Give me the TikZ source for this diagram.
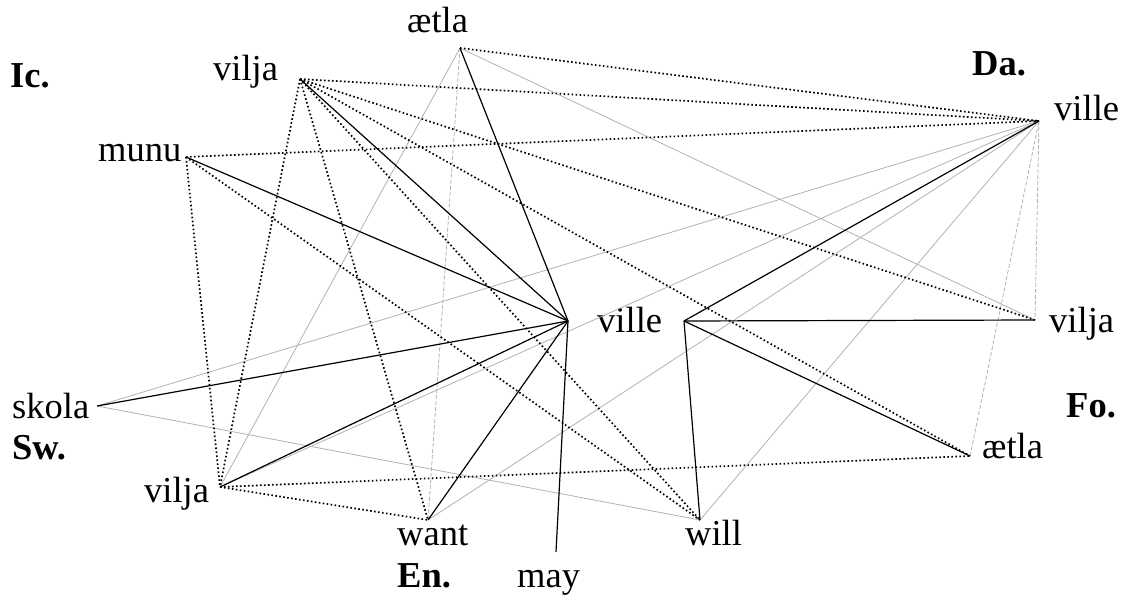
\documentclass[tikz,border=0pt]{standalone}
\usepackage{fontspec}
\setmainfont{Liberation Serif}
\begin{document}
\begin{tikzpicture}[x=1pt,y=-1pt,
  lbl/.style={anchor=base west,inner sep=0pt,font=\fontsize{36.5}{40}\selectfont},
  blbl/.style={lbl,font=\fontsize{36.5}{40}\selectfont\bfseries},
  dotl/.style={line width=1.7pt,dash pattern=on 1.6pt off 2.4pt,black},
  soll/.style={line width=1.2pt,black},
  gryl/.style={line width=0.8pt,black!30},
  gdsh/.style={line width=0.8pt,black!30,dash pattern=on 4pt off 2pt}]
\useasboundingbox (0,0) rectangle (1125,597);
% labels
\node[lbl]  (tIcA) at (407,32)  {ætla};
\node[blbl] (tIc)  at (10,87)   {Ic.};
\node[lbl]  (tIcV) at (213,80)  {vilja};
\node[lbl]  (tIcM) at (98,161)  {munu};
\node[blbl] (tDa)  at (972,75)  {Da.};
\node[lbl]  (tDaV) at (1054,120){ville};
\node[lbl]  (tC)   at (597,332) {ville};
\node[lbl]  (tFoV) at (1049,332){vilja};
\node[blbl] (tFo)  at (1066,417){Fo.};
\node[lbl]  (tFoA) at (982,458) {ætla};
\node[lbl]  (tSwS) at (12,418)  {skola};
\node[blbl] (tSw)  at (12,459)  {Sw.};
\node[lbl]  (tSwV) at (144,502) {vilja};
\node[lbl]  (tEnW) at (397,545) {want};
\node[lbl]  (tEnL) at (685,545) {will};
\node[blbl] (tEn)  at (397,587) {En.};
\node[lbl]  (tEnM) at (517,587) {may};
% points
\coordinate (IcA) at (460,48);
\coordinate (IcV) at (300,79);
\coordinate (IcM) at (186,157);
\coordinate (DaV) at (1039,121);
\coordinate (FoV) at (1035,320);
\coordinate (FoA) at (970,456);
\coordinate (SwS) at (97,406);
\coordinate (SwV) at (220,487);
\coordinate (EnW) at (428,520);
\coordinate (EnL) at (700,520);
\coordinate (EnM) at (556,552);
\coordinate (CL)  at (568,321);
\coordinate (CR)  at (684,321);
% gray solid
\draw[gryl] (IcA) -- (FoV);
\draw[gryl] (IcA) -- (SwV);
\draw[gryl] (SwS) -- (DaV);
\draw[gryl] (SwS) -- (EnL);
\draw[gryl] (SwV) -- (DaV);
\draw[gryl] (EnW) -- (DaV);
\draw[gryl] (EnL) -- (DaV);
% gray dashed
\draw[gdsh] (IcA) -- (EnW);
\draw[gdsh] (DaV) -- (FoV);
\draw[gdsh] (FoA) -- (DaV);
% dotted
\draw[dotl] (IcV) -- (DaV);
\draw[dotl] (IcV) -- (FoV);
\draw[dotl] (IcV) -- (FoA);
\draw[dotl] (IcV) -- (EnL);
\draw[dotl] (IcV) -- (EnW);
\draw[dotl] (IcV) -- (SwV);
\draw[dotl] (IcA) -- (DaV);
\draw[dotl] (IcM) -- (DaV);
\draw[dotl] (IcM) -- (EnL);
\draw[dotl] (IcM) -- (SwV);
\draw[dotl] (SwV) -- (EnW);
\draw[dotl] (SwV) -- (FoA);
% solid
\draw[soll] (IcV) -- (CL);
\draw[soll] (IcA) -- (CL);
\draw[soll] (IcM) -- (CL);
\draw[soll] (SwS) -- (CL);
\draw[soll] (SwV) -- (CL);
\draw[soll] (EnW) -- (CL);
\draw[soll] (EnM) -- (CL);
\draw[soll] (CR) -- (DaV);
\draw[soll] (CR) -- (FoV);
\draw[soll] (CR) -- (FoA);
\draw[soll] (CR) -- (EnL);
\end{tikzpicture}
\end{document}
